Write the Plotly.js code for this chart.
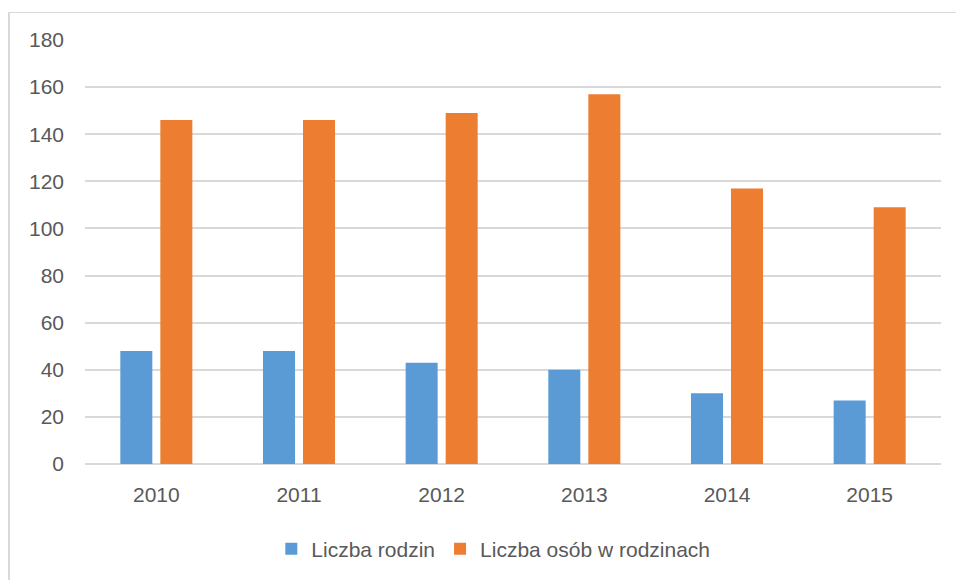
<!DOCTYPE html>
<html>
<head>
<meta charset="utf-8">
<script src="https://cdn.plot.ly/plotly-3.0.1.min.js"></script>
<style>
html,body{margin:0;padding:0;background:#fff;}
#wrap{position:relative;width:956px;height:580px;overflow:hidden;}
#frame{position:absolute;left:8px;top:12px;width:1000px;height:1000px;border-left:2px solid #d9d9d9;border-top:1.5px solid #d9d9d9;pointer-events:none;}
#chart{position:absolute;left:0;top:0;width:956px;height:580px;}
</style>
</head>
<body>
<div id="wrap">
<div id="frame"></div>
<div id="chart"></div>
</div>
<script>
const years = ["2010", "2011", "2012", "2013", "2014", "2015"];
const seriesNames = ["Liczba rodzin", "Liczba osób w rodzinach"];
const rodziny = [48, 48, 43, 40, 30, 27];
const osoby = [146, 146, 149, 157, 117, 109];
const yTicks = [0, 20, 40, 60, 80, 100, 120, 140, 160, 180];

const fontFam = "Liberation Sans, Arial, sans-serif";
const traces = [
  {type: "bar", name: seriesNames[0], x: years, y: rodziny, marker: {color: "#5b9bd5"}, hoverinfo: "skip"},
  {type: "bar", name: seriesNames[1], x: years, y: osoby, marker: {color: "#ed7d31"}, hoverinfo: "skip"}
];
const layout = {
  width: 956, height: 580,
  margin: {l: 85, r: 15, t: 40, b: 115.5, pad: 0, autoexpand: false},
  paper_bgcolor: "rgba(0,0,0,0)",
  plot_bgcolor: "rgba(0,0,0,0)",
  barmode: "group",
  bargap: 0.439,
  bargroupgap: 0.2,
  font: {family: fontFam, size: 21, color: "#595959"},
  xaxis: {
    type: "category",
    showgrid: false, showline: false, ticks: "",
    ticklabelstandoff: 16,
    tickfont: {family: fontFam, size: 21, color: "#595959"}
  },
  yaxis: {
    range: [0, 180], tickvals: yTicks, ticktext: yTicks.map(String),
    showgrid: true, gridcolor: "#d9d9d9", gridwidth: 2,
    zeroline: true, zerolinecolor: "#d9d9d9", zerolinewidth: 2,
    showline: false, ticks: "",
    ticklabelstandoff: 20,
    tickfont: {family: fontFam, size: 21, color: "#595959"}
  },
  showlegend: true,
  legend: {
    orientation: "h", x: 0.477, xanchor: "center",
    yref: "container", y: 0.0534, yanchor: "middle",
    font: {family: fontFam, size: 21, color: "#595959"},
    itemwidth: 30, traceorder: "normal"
  }
};
Plotly.newPlot("chart", traces, layout, {staticPlot: true, displayModeBar: false});
</script>
</body>
</html>
